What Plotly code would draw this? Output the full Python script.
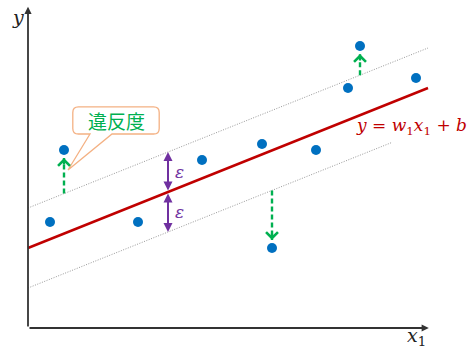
import plotly.graph_objects as go

# Sample points (x1, y)
x1 = [0.55, 0.9, 2.75, 4.35, 5.85, 6.1, 7.2, 8.0, 8.3, 9.7]
y = [2.65, 4.45, 2.65, 4.2, 4.6, 2.0, 4.45, 6.0, 7.05, 6.25]

# Regression line y = w1*x1 + b and tube half-width epsilon
w1, b = 0.4, 2.0
eps = 1.0
line_x = [0.0, 10.0]
upper_x = [0.0, 10.0]
lower_x = [0.0, 9.1]
eps_x = 3.5

RED = "#C00000"
BLUE = "#0070C0"
GREEN = "#00B050"
PURPLE = "#7030A0"
ORANGE = "#F4B183"
AXIS = "#333333"


def f(x, shift=0.0):
    return w1 * x + b + shift


fig = go.Figure()

# epsilon-tube boundaries
fig.add_trace(go.Scatter(x=upper_x, y=[f(v, eps) for v in upper_x], mode="lines",
                         line=dict(color="#8c8c8c", width=0.9, dash="1px,1.5px"), hoverinfo="skip"))
fig.add_trace(go.Scatter(x=lower_x, y=[f(v, -eps) for v in lower_x], mode="lines",
                         line=dict(color="#8c8c8c", width=0.9, dash="1px,1.5px"), hoverinfo="skip"))

# regression line
fig.add_trace(go.Scatter(x=line_x, y=[f(v) for v in line_x], mode="lines",
                         line=dict(color=RED, width=2.5), hoverinfo="skip"))

# violations: dashed green arrows from tube edge to points outside it
gap = 0.2
annotations = []
for xi, yi in zip(x1, y):
    hi, lo = f(xi, eps), f(xi, -eps)
    if yi > hi:
        start, end, tail = hi, yi - gap, 8
    elif yi < lo:
        start, end, tail = lo, yi + gap, -8
    else:
        continue
    fig.add_trace(go.Scatter(x=[xi, xi], y=[start, end], mode="lines",
                             line=dict(color=GREEN, width=2.4, dash="5px,3px"), hoverinfo="skip"))
    annotations.append(dict(x=xi, y=end, ax=0, ay=tail, xref="x", yref="y",
                            showarrow=True, arrowhead=4, arrowsize=1.0, arrowwidth=2.3,
                            arrowcolor=GREEN, text=""))

# data points
fig.add_trace(go.Scatter(x=x1, y=y, mode="markers",
                         marker=dict(color=BLUE, size=10), hoverinfo="skip"))

# epsilon double arrows
for s in (eps, -eps):
    annotations.append(dict(x=eps_x, y=f(eps_x, s), ax=eps_x, ay=f(eps_x), xref="x", yref="y",
                            axref="x", ayref="y", showarrow=True, arrowhead=2, startarrowhead=2,
                            arrowside="end+start", arrowsize=0.9, startarrowsize=0.9,
                            arrowwidth=2, arrowcolor=PURPLE, text=""))
    annotations.append(dict(x=eps_x + 0.12, y=f(eps_x, s / 2), xref="x", yref="y",
                            text="<i>ε</i>", showarrow=False, xanchor="left",
                            font=dict(family="DejaVu Serif", size=17, color=PURPLE)))

# axes with arrowheads
annotations.append(dict(x=10.02, y=0, ax=0, ay=0, xref="x", yref="y", axref="x", ayref="y",
                        showarrow=True, arrowhead=2, arrowsize=0.8, arrowwidth=1.8,
                        arrowcolor=AXIS, text=""))
annotations.append(dict(x=0, y=8.03, ax=0, ay=0, xref="x", yref="y", axref="x", ayref="y",
                        showarrow=True, arrowhead=2, arrowsize=0.8, arrowwidth=1.8,
                        arrowcolor=AXIS, text=""))
annotations.append(dict(x=-0.25, y=7.77, xref="x", yref="y", text="<i>y</i>", showarrow=False,
                        font=dict(family="DejaVu Serif", size=19, color="#222")))
annotations.append(dict(x=9.72, y=-0.21, xref="x", yref="y", text="<i>x</i><sub>1</sub>",
                        showarrow=False, font=dict(family="DejaVu Serif", size=19, color="#222")))

# equation label
annotations.append(dict(x=8.15, y=5.03, xref="x", yref="y", xanchor="left",
                        text="<i>y</i> = <i>w</i><sub>1</sub><i>x</i><sub>1</sub> + <i>b</i>",
                        showarrow=False, font=dict(family="DejaVu Serif", size=17, color=RED)))

# callout balloon "違反度"
bx0, bx1, by0, by1, r = 1.12, 3.28, 4.85, 5.53, 0.14
w0, w1p = 1.55, 2.1
tip = (1.0, 3.95)
path = (f"M {bx0 + r},{by1} L {bx1 - r},{by1} Q {bx1},{by1} {bx1},{by1 - r} "
        f"L {bx1},{by0 + r} Q {bx1},{by0} {bx1 - r},{by0} "
        f"L {w1p},{by0} L {tip[0]},{tip[1]} L {w0},{by0} "
        f"L {bx0 + r},{by0} Q {bx0},{by0} {bx0},{by0 + r} "
        f"L {bx0},{by1 - r} Q {bx0},{by1} {bx0 + r},{by1} Z")
fig.add_shape(type="path", path=path, xref="x", yref="y",
              line=dict(color=ORANGE, width=1.3), fillcolor="white", layer="above")
annotations.append(dict(x=(bx0 + bx1) / 2, y=(by0 + by1) / 2, xref="x", yref="y",
                        text="違反度", showarrow=False,
                        font=dict(family="Noto Sans CJK JP", size=19, color=GREEN)))

fig.update_layout(
    width=475, height=351,
    margin=dict(l=0, r=0, t=0, b=0),
    paper_bgcolor="white", plot_bgcolor="white",
    showlegend=False,
    xaxis=dict(range=[-0.7, 11.175], visible=False, fixedrange=True),
    yaxis=dict(range=[-0.575, 8.2], visible=False, fixedrange=True),
    annotations=annotations,
)

fig.write_html("out.html")
